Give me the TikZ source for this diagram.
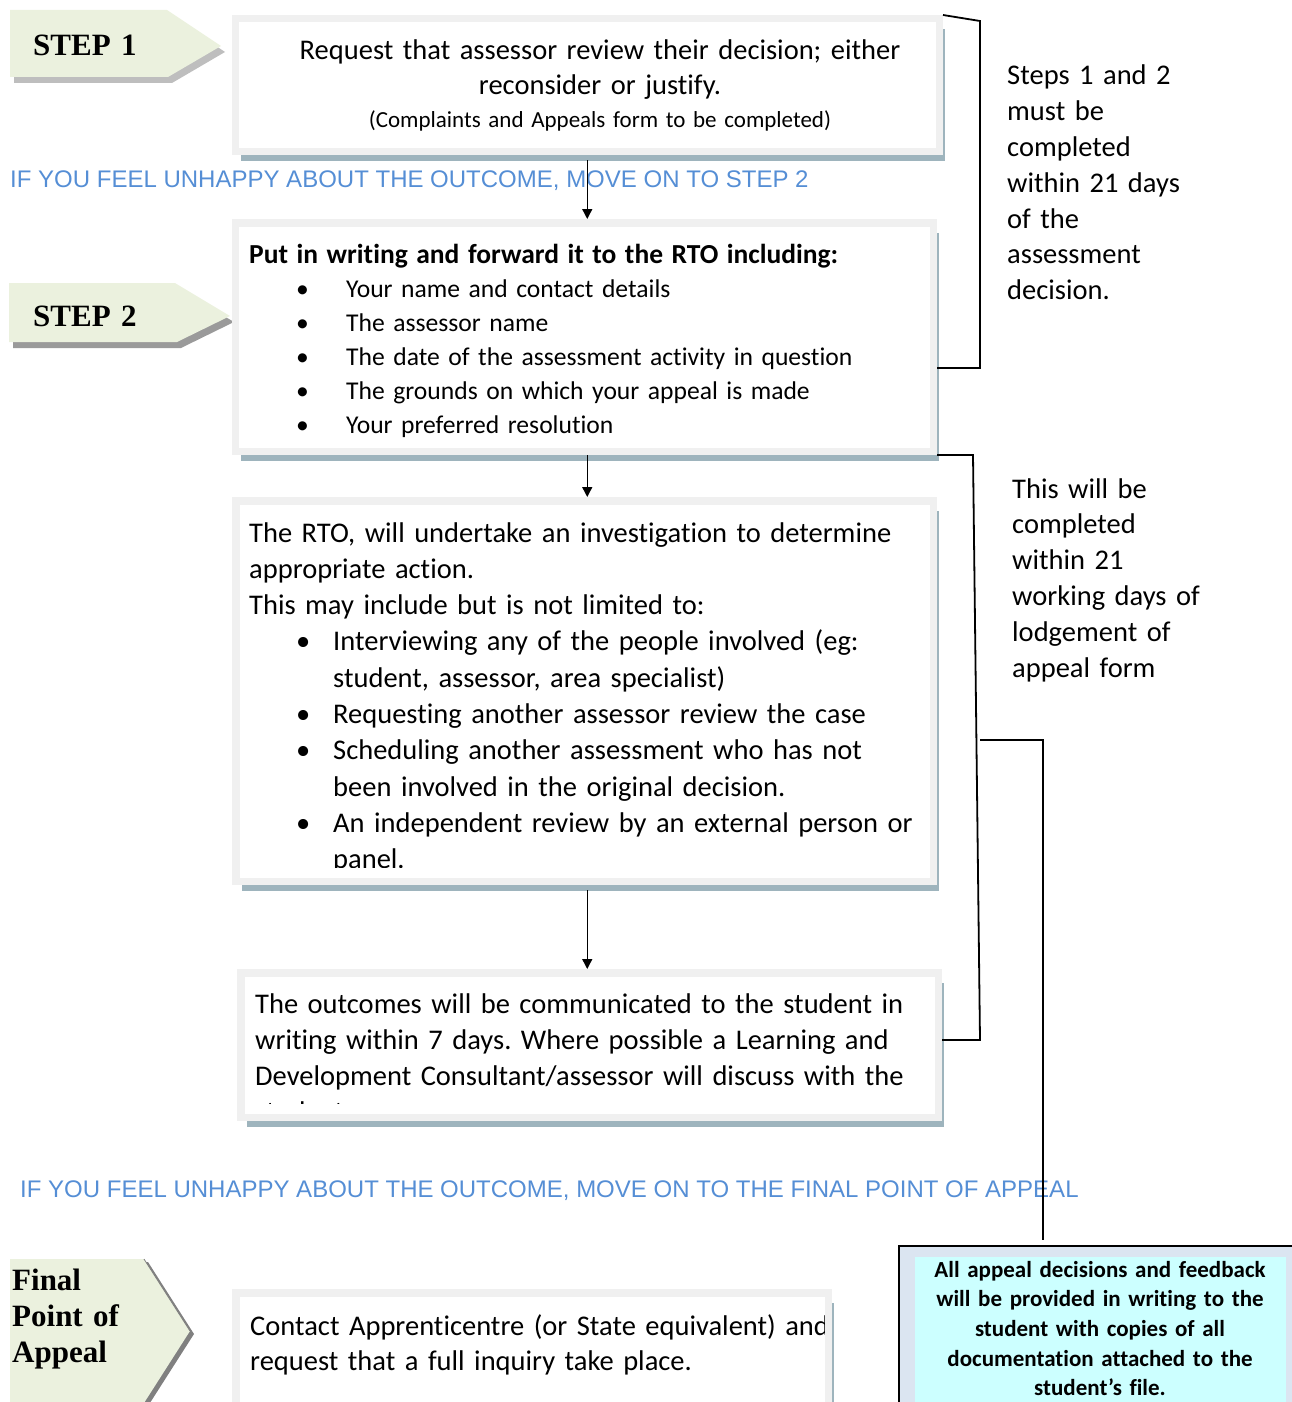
\documentclass[tikz,border=0pt]{standalone}
\usepackage{fontspec}
\setmainfont{Carlito}[Ligatures=NoCommon]
\newfontfamily\notefont{Liberation Sans}
\newfontfamily\stepfont{Liberation Serif}
\usepackage{tikz}
\usepackage{xcolor}
\usetikzlibrary{positioning}
\usetikzlibrary{calc}
\usetikzlibrary{arrows.meta}
\usetikzlibrary{shadows}
\frenchspacing
\definecolor{framecolor}{RGB}{240,240,240}
\definecolor{shadecolor}{RGB}{158,180,189}
\definecolor{stepcolor}{RGB}{235,241,222}
\definecolor{stepshade}{RGB}{190,190,190}
\definecolor{stepdark}{RGB}{128,128,128}
\definecolor{infocolor}{RGB}{85,142,213}
\definecolor{notecolor}{RGB}{219,229,241}
\definecolor{notefill}{RGB}{204,255,255}
\tikzstyle{cbox} = [
	draw=framecolor,
	line width=7.5pt,
	fill=white,
	inner sep=0pt,
	anchor=north west,
	drop shadow={shadow xshift=6pt, shadow yshift=-10pt, fill=shadecolor, opacity=1}
]
\tikzstyle{btxt} = [
	anchor=base west,
	inner sep=0pt,
	align=left,
	text width=700pt,
	font=\fontsize{28.5}{36.3}\selectfont
]
\tikzstyle{stxt} = [
	anchor=base west,
	inner sep=0pt,
	align=left,
	text width=200pt,
	font=\stepfont\bfseries\fontsize{31}{36}\selectfont
]
\tikzstyle{info} = [
	anchor=base west,
	inner sep=0pt,
	text=infocolor,
	font=\notefont\fontsize{24}{28}\selectfont
]
\tikzstyle{arr} = [
	-{Triangle[width=10pt,length=10pt]},
	line width=1.4pt
]
\tikzstyle{bline} = [
	line width=1.8pt
]

\begin{document}
\begin{tikzpicture}[x=1pt, y=-1pt]
	\clip (0,0) rectangle (1292,1402);
	
	%
	% Step markers
	\fill[stepshade, shift={(4,6)}] (10,10) -- (167,10) -- (221,46) -- (168,77) -- (10,77) -- cycle;
	\fill[stepcolor] (10,10) -- (167,10) -- (221,46) -- (168,77) -- (10,77) -- cycle;
	\node[stxt] (st1) at (33,56) {STEP 1};
	
	\fill[stepdark!80, shift={(4,6)}] (9,283) -- (175,283) -- (230,316) -- (177,342) -- (9,342) -- cycle;
	\fill[stepcolor] (9,283) -- (175,283) -- (230,316) -- (177,342) -- (9,342) -- cycle;
	\node[stxt] (st2) at (33,326) {STEP 2};
	
	\fill[stepdark, shift={(4,3)}] (10,1259) -- (144,1259) -- (190,1331) -- (144,1403) -- (10,1403) -- cycle;
	\fill[stepcolor] (10,1259) -- (144,1259) -- (190,1331) -- (144,1403) -- (10,1403) -- cycle;
	\draw[stepdark, line width=0.8pt] (144,1259) -- (190,1331);
	\node[stxt] (stf) at (12,1290) {Final\\Point of\\Appeal};
	
	%
	% Boxes
	\node[cbox, minimum width=704pt, minimum height=132.5pt] (b1) at (231.5,15) {};
	\node[cbox, minimum width=698pt, minimum height=228.5pt] (b2) at (231.5,219) {};
	\node[cbox, minimum width=697.5pt, minimum height=380.5pt] (b3) at (232,497) {};
	\node[cbox, minimum width=697.5pt, minimum height=144.5pt] (b4) at (237,969) {};
	\node[cbox, minimum width=592.5pt, minimum height=130pt] (b5) at (232,1289) {};
	
	%
	% Box texts
	\node[btxt, anchor=base, align=center, font=\fontsize{28.5}{35}\selectfont] (t1) at (600,60) {Request that assessor review their decision; either\\reconsider or justify.};
	\node[btxt, anchor=base, align=center, font=\fontsize{23}{26}\selectfont] (t1s) at (600,127.5) {(Complaints and Appeals form to be completed)};
	
	\node[btxt, font=\fontsize{25.6}{34}\selectfont] (t2) at (249,263) {{\bfseries\fontsize{27.5}{34}\selectfont Put in writing and forward it to the RTO including:}\\
		\hspace*{47pt}\makebox[50pt][l]{\textbullet}Your name and contact details\\
		\hspace*{47pt}\makebox[50pt][l]{\textbullet}The assessor name\\
		\hspace*{47pt}\makebox[50pt][l]{\textbullet}The date of the assessment activity in question\\
		\hspace*{47pt}\makebox[50pt][l]{\textbullet}The grounds on which your appeal is made\\
		\hspace*{47pt}\makebox[50pt][l]{\textbullet}Your preferred resolution};
	
	\begin{scope}
		\clip (b3.north west) rectangle ($(b3.south east)+(0,18pt)$);
		\node[btxt] (t3) at (249,542) {The RTO, will undertake an investigation to determine\\
			appropriate action.\\
			This may include but is not limited to:\\
			\hspace*{47pt}\makebox[37pt][l]{\textbullet}Interviewing any of the people involved (eg:\\
			\hspace*{84pt}student, assessor, area specialist)\\
			\hspace*{47pt}\makebox[37pt][l]{\textbullet}Requesting another assessor review the case\\
			\hspace*{47pt}\makebox[37pt][l]{\textbullet}Scheduling another assessment who has not\\
			\hspace*{84pt}been involved in the original decision.\\
			\hspace*{47pt}\makebox[37pt][l]{\textbullet}An independent review by an external person or\\
			\hspace*{84pt}panel.};
	\end{scope}
	
	\begin{scope}
		\clip (b4.north west) rectangle ($(b4.south east)+(0,18pt)$);
		\node[btxt, font=\fontsize{28.5}{36}\selectfont] (t4) at (255,1013) {The outcomes will be communicated to the student in\\
			writing within 7 days. Where possible a Learning and\\
			Development Consultant/assessor will discuss with the\\
			student.};
	\end{scope}
	
	\begin{scope}
		\clip (b5.north west) rectangle ($(b5.south east)+(-8pt,0)$);
		\node[btxt, font=\fontsize{28.5}{35}\selectfont] (t5) at (250,1335) {Contact Apprenticentre (or State equivalent) and\\
			request that a full inquiry take place.};
	\end{scope}
	
	%
	% Notes
	\node[info] (i1) at (10,187) {IF YOU FEEL UNHAPPY ABOUT THE OUTCOME, MOVE ON TO STEP 2};
	\node[info] (i2) at (20,1197) {IF YOU FEEL UNHAPPY ABOUT THE OUTCOME, MOVE ON TO THE FINAL POINT OF APPEAL};
	
	\node[btxt, text width=280pt, font=\fontsize{28.5}{35.8}\selectfont] (r1) at (1007,85) {Steps 1 and 2\\must be\\completed\\within 21 days\\of the\\assessment\\decision.};
	\node[btxt, text width=280pt, font=\fontsize{28.5}{35.8}\selectfont] (r2) at (1012,498) {This will be\\completed\\within 21\\working days of\\lodgement of\\appeal form};
	
	\node[draw=black, line width=1.5pt, fill=notecolor, anchor=north west, minimum width=420pt, minimum height=200pt] (n1) at (898,1245) {};
	\node[fill=notefill, anchor=north west, inner sep=0pt, minimum width=371pt, minimum height=200pt] (n2) at (915,1257) {};
	\node[btxt, anchor=base, align=center, text width=370pt, font=\bfseries\fontsize{23}{29.7}\selectfont] (n3) at (1100,1277) {All appeal decisions and feedback\\will be provided in writing to the\\student with copies of all\\documentation attached to the\\student’s file.};
	
	%
	% Connectors
	\draw[arr, shorten <=5pt] (b1.south) -- (b1.south |- b2.north);
	\draw[arr] (b1.south |- b2.south) -- (b1.south |- b3.north);
	\draw[arr, shorten <=5pt] (b1.south |- b3.south) -- (b1.south |- b4.north);
	
	\coordinate (k1a) at (980,21);
	\coordinate (k1b) at (980,368);
	\draw[bline] (b1.north east) -- (k1a) -- (k1b) -- (k1b -| b2.east);
	
	\coordinate (k2a) at (973,455);
	\coordinate (k2b) at (980,1040);
	\draw[bline] (b2.south east) -- (k2a) -- (k2b) -- (k2b -| b4.east);
	
	\coordinate (k3a) at (980,740);
	\coordinate (k3b) at (1043,740);
	\draw[bline, shorten >=5pt] (k3a) -- (k3b) -- (k3b |- n1.north);
	
\end{tikzpicture}
\end{document}
